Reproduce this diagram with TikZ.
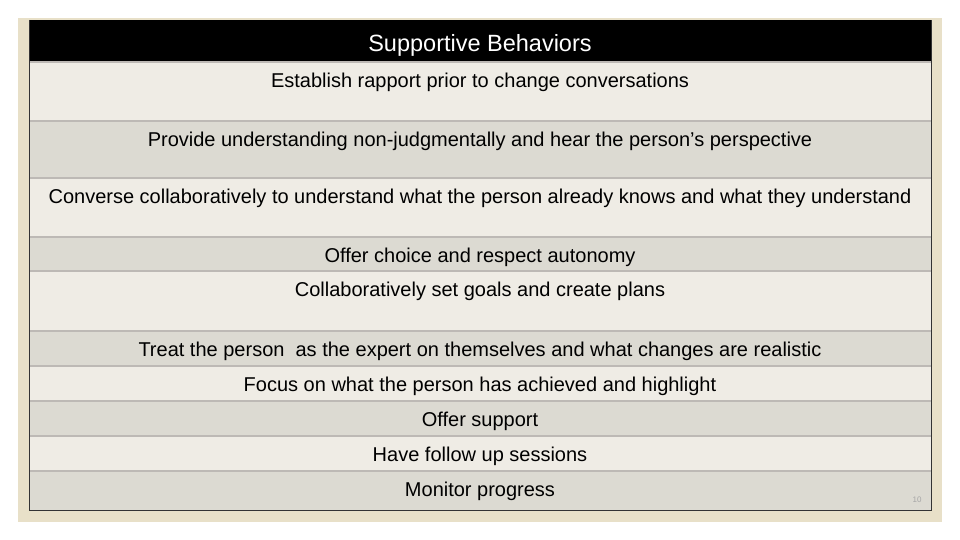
\documentclass[tikz,border=0pt]{standalone}
\usepackage{fontspec}
\setmainfont{Liberation Sans}
\definecolor{beige}{HTML}{E8E0C8}
\definecolor{rowlight}{HTML}{EFECE5}
\definecolor{rowdark}{HTML}{DCDAD2}
\definecolor{sepline}{HTML}{BDB9B5}
\begin{document}
\begin{tikzpicture}[x=1pt,y=-1pt,
  rowtext/.style={anchor=center,font=\fontsize{20}{22}\selectfont,inner sep=0pt}]
\useasboundingbox (0,0) rectangle (960,540);
\fill[white] (0,0) rectangle (960,540);
\fill[beige] (18,18) rectangle (942,522);
\fill[black] (29,20) rectangle (931,62);
\node[font=\fontsize{23.5}{25}\selectfont,text=white,inner sep=0pt] (title) at (480,45) {Supportive Behaviors};
\def\rows{62/121/rowlight/{Establish rapport prior to change conversations},
121/178/rowdark/{Provide understanding non-judgmentally and hear the person’s perspective},
178/237/rowlight/{Converse collaboratively to understand what the person already knows and what they understand},
237/271/rowdark/{Offer choice and respect autonomy},
271/331/rowlight/{Collaboratively set goals and create plans},
331/366/rowdark/{Treat the person\ \ as the expert on themselves and what changes are realistic},
366/401/rowlight/{Focus on what the person has achieved and highlight},
401/436/rowdark/{Offer support},
436/471/rowlight/{Have follow up sessions},
471/510/rowdark/{Monitor progress}}
\foreach \t/\b/\c/\txt [count=\i] in \rows {
  \fill[\c] (29,\t) rectangle (931,\b);
  \draw[sepline,line width=1.5] (29,\t) -- (931,\t);
  \node[rowtext] (r\i) at (480,\t+20.5) {\txt};
}
\draw[black!80,line width=0.8] (29,20) -- (29,510) -- (931,510) -- (931,20);
\node[font=\fontsize{8}{9}\selectfont,text=black!35,inner sep=0pt] (pg) at (917,500) {10};
\end{tikzpicture}
\end{document}
